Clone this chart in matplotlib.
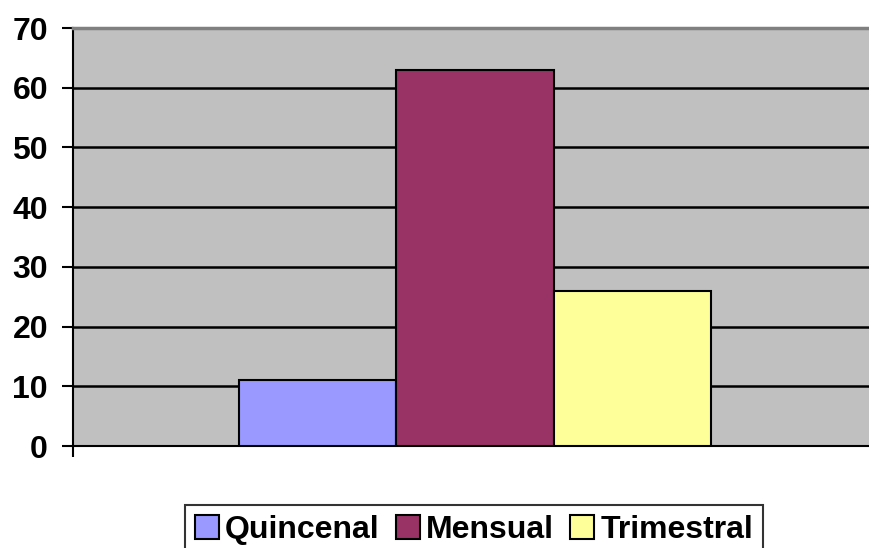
import numpy as np
import matplotlib.pyplot as plt
from matplotlib.patches import Patch

# ── Data ────────────────────────────────────────────────────────────────────
series = ["Quincenal", "Mensual", "Trimestral"]
values = [11, 63, 26]
colors = ["#9999FF", "#993366", "#FFFF99"]
yticks = [0, 10, 20, 30, 40, 50, 60, 70]

plt.rcParams['font.family'] = ['Liberation Sans', 'DejaVu Sans']
plt.rcParams['font.weight'] = 'bold'

fig = plt.figure(figsize=(8.69, 5.48), dpi=100)
ax = fig.add_axes([73 / 869, 1 - 446 / 548, 1 - 73 / 869, (446 - 28) / 548])
ax.set_facecolor("#C0C0C0")

width = 0.198
centers = 0.505 + (np.arange(len(series)) - 1) * width
for c, v, col, name in zip(centers, values, colors, series):
    ax.bar(c, v, width=width, color=col, edgecolor="black", linewidth=1.5,
           label=name, zorder=3)

ax.set_xlim(0, 1)
ax.set_ylim(0, 70)
ax.set_yticks(yticks)
ax.set_yticklabels([str(t) for t in yticks], fontsize=23, fontweight='bold')
for t in yticks[1:-1]:
    ax.axhline(t, color="black", linewidth=1.8, zorder=2)

ax.set_xticks([0])
ax.set_xticklabels([""])
ax.tick_params(axis='x', length=8, width=1.5, direction='out')
ax.tick_params(axis='y', length=8, width=1.5, direction='out', pad=10)

ax.spines['left'].set_linewidth(1.5)
ax.spines['bottom'].set_linewidth(1.5)
ax.spines['right'].set_visible(False)
ax.spines['top'].set_color("#808080")
ax.spines['top'].set_linewidth(2.5)

handles = [Patch(facecolor=c, edgecolor="black", linewidth=1.5) for c in colors]
leg = fig.legend(handles, series, loc='lower center', bbox_to_anchor=(474 / 869, -0.012),
                 ncol=3, frameon=True, fancybox=False, edgecolor="black",
                 prop={'size': 23, 'weight': 'bold'}, handlelength=0.75,
                 handleheight=0.75, handletextpad=0.2, columnspacing=0.5,
                 borderpad=0.3, borderaxespad=0)
leg.get_frame().set_linewidth(1.5)

fig.savefig("out.png", dpi=100)
